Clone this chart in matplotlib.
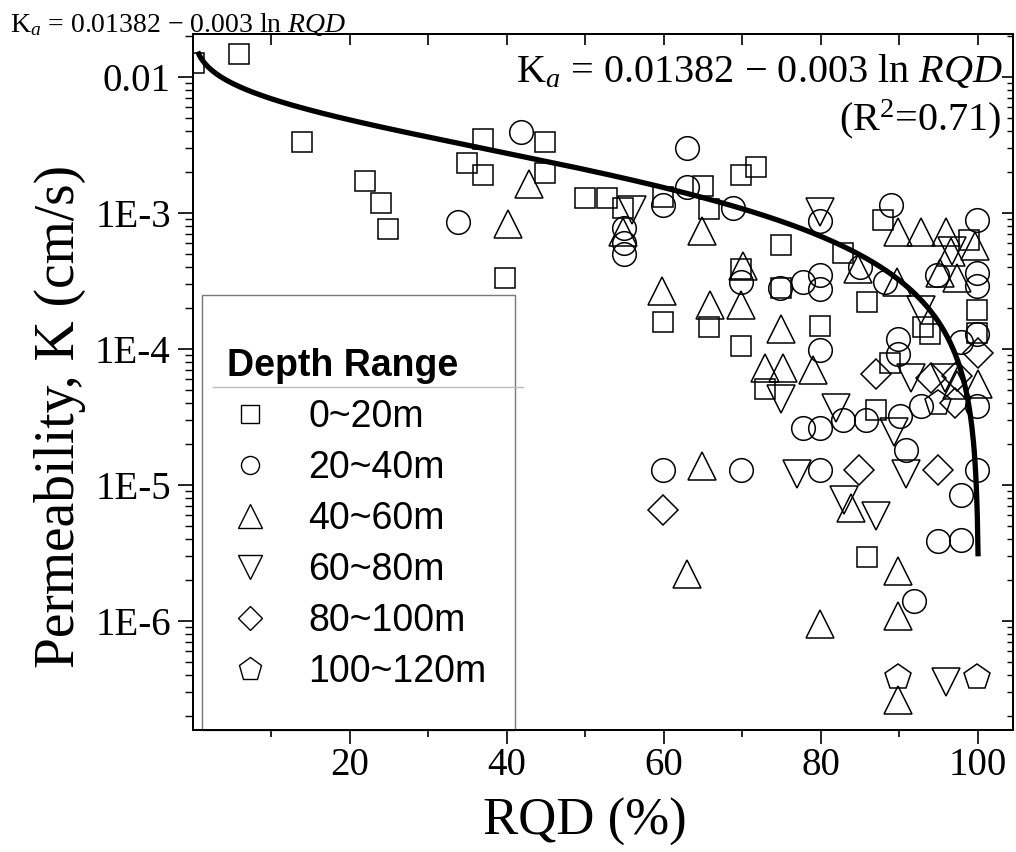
import matplotlib
matplotlib.use('Agg')
import matplotlib.pyplot as plt
import numpy as np
from matplotlib.ticker import FixedLocator, LogLocator, FuncFormatter, NullFormatter
from matplotlib.lines import Line2D
from matplotlib.patches import Rectangle
from matplotlib.font_manager import FontProperties

plt.rcParams['mathtext.fontset'] = 'custom'
plt.rcParams['mathtext.rm'] = 'Liberation Serif'
plt.rcParams['mathtext.it'] = 'Liberation Serif:italic'
plt.rcParams['font.family'] = ['Liberation Serif', 'DejaVu Serif']

# ---------------- data (RQD %, permeability K cm/s) ----------------
sq_rqd = [0.1, 5.8, 13.9, 21.9, 23.9, 24.9, 34.9, 36.9, 36.9, 39.7, 44.9, 44.9, 49.9, 52.8,
          54.8, 59.9, 65.0, 65.8, 69.9, 71.8, 69.9, 74.9, 74.9, 82.8, 87.9, 98.9, 85.9, 59.9,
          65.8, 69.9, 79.9, 72.9, 87.0, 93.0, 93.9, 99.9, 99.9, 88.8, 85.9]
sq_k = [1.27e-2, 1.47e-2, 3.33e-3, 1.71e-3, 1.19e-3, 7.6e-4, 2.34e-3, 3.48e-3, 1.91e-3, 3.3e-4,
        3.33e-3, 1.96e-3, 1.29e-3, 1.29e-3, 1.08e-3, 1.32e-3, 1.57e-3, 1.07e-3, 1.89e-3, 2.18e-3,
        3.9e-4, 5.8e-4, 2.8e-4, 5.06e-4, 8.9e-4, 6.3e-4, 2.23e-4, 1.57e-4, 1.45e-4, 1.05e-4,
        1.47e-4, 5.1e-5, 3.56e-5, 1.46e-4, 1.3e-4, 1.94e-4, 1.31e-4, 7.9e-5, 2.97e-6]

ci_rqd = [33.8, 41.8, 62.9, 62.9, 59.9, 68.8, 54.9, 54.9, 54.9, 79.9, 89.0, 99.9, 74.8, 77.7,
          79.9, 79.9, 85.0, 88.2, 94.8, 99.9, 99.9, 69.9, 89.9, 89.9, 79.9, 99.9, 97.9, 92.8,
          99.9, 77.8, 79.9, 82.8, 85.8, 90.1, 90.9, 59.9, 69.9, 79.9, 99.9, 97.9, 94.9, 97.9, 91.9]
ci_k = [8.6e-4, 3.96e-3, 2.99e-3, 1.56e-3, 1.14e-3, 1.08e-3, 7.7e-4, 6.0e-4, 5.0e-4, 8.8e-4,
        1.15e-3, 8.9e-4, 2.79e-4, 3.13e-4, 3.5e-4, 2.76e-4, 4.0e-4, 3.1e-4, 3.5e-4, 3.6e-4,
        2.9e-4, 3.1e-4, 1.18e-4, 9.2e-5, 9.8e-5, 1.3e-4, 1.13e-4, 3.8e-5, 3.8e-5, 2.61e-5,
        2.61e-5, 3.0e-5, 3.0e-5, 3.2e-5, 1.81e-5, 1.29e-5, 1.29e-5, 1.29e-5, 1.29e-5, 8.4e-6,
        3.9e-6, 3.94e-6, 1.41e-6]

tu_rqd = [40.1, 42.8, 54.8, 64.9, 70.1, 84.8, 89.9, 92.8, 95.9, 99.7, 96.6, 95.2, 97.3, 89.7,
          59.8, 65.9, 69.9, 74.9, 72.9, 75.2, 79.0, 100.0, 97.3, 64.9, 83.8, 62.9, 89.9, 89.9,
          79.9, 89.9]
tu_k = [8.3e-4, 1.63e-3, 7.2e-4, 7.4e-4, 4.1e-4, 3.85e-4, 7.2e-4, 7.2e-4, 7.2e-4, 5.7e-4,
        5.2e-4, 3.6e-4, 3.3e-4, 3.1e-4, 2.67e-4, 2.11e-4, 2.11e-4, 1.4e-4, 7.3e-5, 7.3e-5,
        7.0e-5, 5.5e-5, 5.4e-5, 1.39e-5, 6.8e-6, 2.2e-6, 2.33e-6, 1.09e-6, 9.5e-7, 2.63e-7]

td_rqd = [56.0, 79.9, 96.7, 92.8, 74.9, 81.9, 89.3, 91.5, 95.8, 77.0, 90.9, 82.9, 87.0, 95.9]
td_k = [1.05e-3, 1.02e-3, 5.3e-4, 1.94e-4, 4.3e-5, 3.66e-5, 2.44e-5, 6.1e-5, 6.1e-5, 1.2e-5,
        1.2e-5, 7.7e-6, 5.9e-6, 3.58e-7]

di_rqd = [59.9, 84.9, 94.9, 87.0, 100.0, 97.1, 94.0, 97.3]
di_k = [6.5e-6, 1.3e-5, 1.3e-5, 6.5e-5, 9.3e-5, 4.0e-5, 6.1e-5, 6.3e-5]

pe_rqd = [89.9, 99.9, 94.9]
pe_k = [3.85e-7, 3.9e-7, 4.0e-5]

depth_labels = ['0~20m', '20~40m', '40~60m', '60~80m', '80~100m', '100~120m']
fit_a, fit_b = 0.01382, 0.003
ytick_vals = [1e-6, 1e-5, 1e-4, 1e-3, 1e-2]
ytick_text = ['1E-6', '1E-5', '1E-4', '1E-3', '0.01']

# ---------------- figure ----------------
W, H = 1016, 852
fig = plt.figure(figsize=(W / 100, H / 100), dpi=100)
ax = fig.add_axes([193 / W, 122 / H, 820 / W, 696 / H])

series = [
    (sq_rqd, sq_k, 's', 15),
    (ci_rqd, ci_k, 'o', 17),
    (tu_rqd, tu_k, '^', 20),
    (td_rqd, td_k, 'v', 20),
    (di_rqd, di_k, 'D', 15),
    (pe_rqd, pe_k, 'p', 19),
]
for xs, ys, m, ms in series:
    ax.plot(xs, ys, ls='none', marker=m, ms=ms, mfc='none', mec='black', mew=1.1, zorder=3)

rq = np.linspace(0.6, 100.05, 1000)
ax.plot(rq, fit_a - fit_b * np.log(rq), color='black', lw=3.8, zorder=4,
        solid_capstyle='butt')

ax.set_yscale('log')
ax.set_xlim(0, 104.5)
ax.set_ylim(10 ** -6.801, 10 ** -1.684)

ax.set_xticks([20, 40, 60, 80, 100])
ax.set_xticks([10, 30, 50, 70, 90], minor=True)
ax.yaxis.set_major_locator(FixedLocator(ytick_vals))
ax.yaxis.set_major_formatter(FuncFormatter(lambda v, p: dict(zip(ytick_vals, ytick_text)).get(v, '')))
ax.yaxis.set_minor_locator(LogLocator(base=10, subs=np.arange(2, 10)))
ax.yaxis.set_minor_formatter(NullFormatter())

ax.tick_params(axis='x', which='major', direction='out', length=10, width=1.2, pad=2, labelsize=28)
ax.tick_params(axis='x', which='minor', direction='out', length=5, width=1.2)
ax.tick_params(axis='y', which='major', direction='out', length=11, width=1.2, pad=5, labelsize=28)
ax.tick_params(axis='y', which='minor', direction='out', length=6, width=1.0)
for s in ax.spines.values():
    s.set_linewidth(1.3)

# inward ticks on top and right
axt = ax.twiny()
axt.set_xlim(ax.get_xlim())
axt.set_xticks(np.arange(10, 101, 10))
axt.tick_params(axis='x', direction='in', length=8, width=1.2, labeltop=False)
axr = ax.twinx()
axr.set_yscale('log')
axr.set_ylim(ax.get_ylim())
axr.yaxis.set_major_locator(FixedLocator(ytick_vals))
axr.yaxis.set_minor_locator(LogLocator(base=10, subs=np.arange(2, 10)))
axr.tick_params(axis='y', which='major', direction='in', length=8, width=1.2, labelright=False)
axr.tick_params(axis='y', which='minor', direction='in', length=4, width=1.0, labelright=False)
for a in (axt, axr):
    for s in a.spines.values():
        s.set_linewidth(1.3)

# axis labels
fig.text(60 / W, 1 - 416 / H, 'Permeability, K (cm/s)', rotation=90, ha='center', va='center',
         fontsize=40)
fig.text(585 / W, 1 - 822 / H, 'RQD (%)', ha='center', va='center', fontsize=38)

# equations
fig.text(10 / W, 1 - 32 / H, r'K$_{\mathit{a}}$ = 0.01382 $-$ 0.003 ln $\mathit{RQD}$',
         ha='left', va='baseline', fontsize=20)
fig.text(1003 / W, 1 - 82 / H, r'K$_{\mathit{a}}$ = 0.01382 $-$ 0.003 ln $\mathit{RQD}$',
         ha='right', va='baseline', fontsize=29)
fig.text(1001 / W, 1 - 130 / H, r'(R$^{2}$=0.71)', ha='right', va='baseline', fontsize=29)

# legend box + separator line
ax.add_patch(Rectangle(((202 - 193) / 820, 0.0), (515 - 202) / 820, (730 - 295) / 696,
                       transform=ax.transAxes, fill=False, ec='#777777', lw=1.0, zorder=5,
                       clip_on=False))
ax.add_line(Line2D([(213 - 193) / 820, (523 - 193) / 820], [(730 - 387) / 696] * 2,
                   transform=ax.transAxes, color='#bbbbbb', lw=1.0, zorder=5))

handles = [
    Line2D([], [], ls='none', marker='s', ms=13, mfc='none', mec='black', mew=1.0),
    Line2D([], [], ls='none', marker='o', ms=13, mfc='none', mec='black', mew=1.0),
    Line2D([], [], ls='none', marker='^', ms=17, mfc='none', mec='black', mew=1.0),
    Line2D([], [], ls='none', marker='v', ms=17, mfc='none', mec='black', mew=1.0),
    Line2D([], [], ls='none', marker='D', ms=12, mfc='none', mec='black', mew=1.0),
    Line2D([], [], ls='none', marker='p', ms=17, mfc='none', mec='black', mew=1.0),
]
leg = ax.legend(handles, depth_labels, title='Depth Range', loc='upper left',
                bbox_to_anchor=(227 / W, 1 - 348 / H), bbox_transform=fig.transFigure,
                frameon=False, alignment='left', borderpad=0, borderaxespad=0,
                handlelength=1.23, handletextpad=0.93, labelspacing=0.4,
                prop=FontProperties(family='Liberation Sans', size=27),
                title_fontproperties=FontProperties(family='Liberation Sans', weight='bold', size=27))
leg.set_zorder(6)

fig.savefig('out.png', dpi=100)
